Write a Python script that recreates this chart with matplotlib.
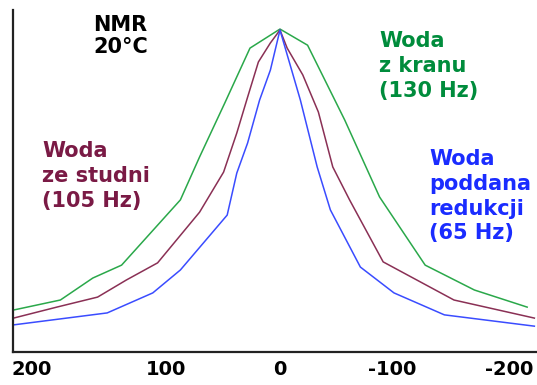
import numpy as np
import matplotlib
matplotlib.use("Agg")
import matplotlib.pyplot as plt
from matplotlib.transforms import ScaledTranslation

# shift in Hz (axis runs from +200 on the left to -200 on the right)
x_kran = [222, 183, 156, 132, 83, 67, 46, 25, 0, -23, -54, -83, -121, -162, -206]
y_kran = [13.0, 16.1, 22.9, 26.9, 47.1, 60.4, 77.1, 94.1, 100, 95.0, 71.8, 48.0, 26.9, 19.2, 13.9]

x_studnia = [222, 186, 152, 128, 102, 67, 47, 36, 27, 18, 8, 0, -6, -19, -32, -44, -58, -86, -145, -212]
y_studnia = [10.5, 13.9, 17.0, 22.3, 27.6, 43.3, 55.7, 67.8, 78.9, 89.8, 95.7, 99.7, 94.1, 85.8,
             74.3, 57.3, 47.1, 27.9, 16.1, 10.5]

x_redukcja = [222, 144, 106, 83, 44, 36, 27, 17, 8, 0, -17, -31, -42, -67, -95, -137, -212]
y_redukcja = [8.4, 12.1, 18.3, 25.4, 42.4, 55.4, 64.7, 78.0, 87.3, 99.7, 78.0, 57.3, 44.0,
              26.3, 18.3, 11.5, 8.0]

ticks = [200, 100, 0, -100, -200]
tick_labels = ['200', '100', '0', '-100', '-200']

W, H = 537, 385
fig = plt.figure(figsize=(W / 100, H / 100), dpi=100)
ax = fig.add_axes([13 / W, (H - 352) / H, 1 - 13 / W, (352 - 10) / H])

ax.plot(x_kran, y_kran, color='#2aa84a', lw=1.1)
ax.plot(x_studnia, y_studnia, color='#8a3055', lw=1.1)
ax.plot(x_redukcja, y_redukcja, color='#3a4cff', lw=1.1)

ax.set_xlim(222.5, -214.2)
ax.set_ylim(0, 105.9)
ax.set_xticks(ticks)
ax.set_xticklabels(tick_labels)
ax.set_yticks([])
ax.tick_params(axis='x', length=0, pad=6, labelsize=14)
# the original labels sit a little off the tick positions
shifts = [-8, 6, 0, -8, -11]
for lab, dx in zip(ax.get_xticklabels(), shifts):
    lab.set_fontweight('bold')
    lab.set_transform(lab.get_transform() + ScaledTranslation(dx / 100, 0, fig.dpi_scale_trans))
for s in ['top', 'right']:
    ax.spines[s].set_visible(False)
for s in ['left', 'bottom']:
    ax.spines[s].set_linewidth(1.6)
    ax.spines[s].set_color('#222222')

def label(px, py, txt, col, ls=1.3):
    fig.text(px / W, 1 - py / H, txt, color=col, fontsize=15, fontweight='bold',
             ha='left', va='top', linespacing=ls)

label(93, 15, 'NMR\n20°C', 'black', 1.15)
label(379, 31, 'Woda\nz kranu\n(130 Hz)', '#008c3c')
label(42, 141, 'Woda\nze studni\n(105 Hz)', '#7a1a45')
label(429, 149, 'Woda\npoddana\nredukcji\n(65 Hz)', '#1a2cff')

fig.savefig('out.png', dpi=100)
